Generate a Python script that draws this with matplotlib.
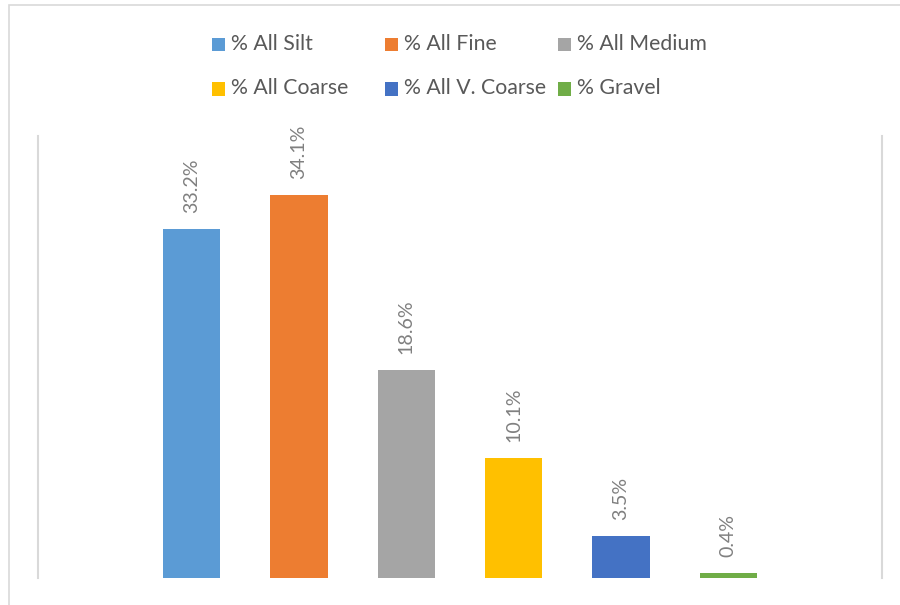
import matplotlib
matplotlib.use("Agg")
import matplotlib.pyplot as plt
from matplotlib.patches import Rectangle

plt.rcParams['font.family'] = ['Lato', 'DejaVu Sans']

series = ["% All Silt", "% All Fine", "% All Medium",
          "% All Coarse", "% All V. Coarse", "% Gravel"]
heights = [31.1, 34.1, 18.5, 10.7, 3.7, 0.45]
labels = ["33.2%", "34.1%", "18.6%", "10.1%", "3.5%", "0.4%"]
colors = ["#5B9BD5", "#ED7D31", "#A5A5A5", "#FFC000", "#4472C4", "#70AD47"]

W, H = 900, 605
fig = plt.figure(figsize=(W / 100, H / 100), dpi=100)
fig.patch.set_facecolor("white")

# outer chart border (top and left visible)
fig.add_artist(Rectangle((9 / W, -0.1), 1.2, 1 - 5 / H + 0.1, transform=fig.transFigure,
                         fill=False, edgecolor="#D9D9D9", linewidth=1.2))

ax = fig.add_axes([38 / W, 1 - 578 / H, (882 - 38) / W, (578 - 136) / H])
x = list(range(len(series)))
bars = ax.bar(x, heights, width=0.532, color=colors)
ax.set_xlim(-1.432, len(series) - 1 + 1.432)
ax.set_ylim(0, 39.35)
ax.set_xticks([])
ax.set_yticks([])
for s in ["top", "bottom"]:
    ax.spines[s].set_visible(False)
for s in ["left", "right"]:
    ax.spines[s].set_color("#D9D9D9")
    ax.spines[s].set_linewidth(1.5)

for b, lab in zip(bars, labels):
    ax.annotate(lab, (b.get_x() + b.get_width() / 2, b.get_height()),
                xytext=(0, 11.5), textcoords="offset points",
                rotation=90, ha="center", va="bottom",
                fontsize=14.1, color="#808080")

# legend laid out like the Excel legend (row-major, 3 columns)
col_x = [212, 385, 558]
row_y = [44.5, 89]
for i, (name, c) in enumerate(zip(series, colors)):
    r, k = divmod(i, 3)
    mx, my = col_x[k], row_y[r]
    fig.add_artist(Rectangle((mx / W, 1 - (my + 6.5) / H), 13 / W, 13 / H,
                             transform=fig.transFigure, facecolor=c, edgecolor="none"))
    fig.text((mx + 19) / W, 1 - (my - 1) / H, name, ha="left", va="center",
             fontsize=15.3, color="#595959")

fig.savefig("out.png", dpi=100, facecolor="white")
